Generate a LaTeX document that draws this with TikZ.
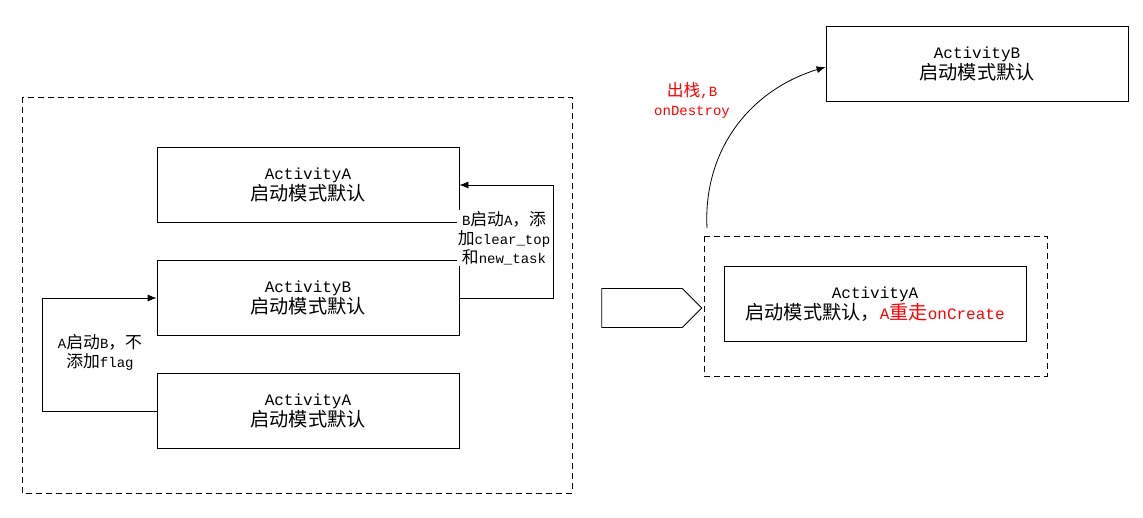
\documentclass[tikz,border=0pt]{standalone}
\usepackage{fontspec}
\setmainfont{Liberation Mono}
\newfontfamily\cjk[Scale=1.2]{Noto Sans CJK SC}
\usetikzlibrary{arrows.meta,shapes.arrows}
\begin{document}
\begin{tikzpicture}[x=1pt,y=-1pt,
 box/.style={draw,line width=0.8pt,minimum width=302pt,minimum height=75pt,align=center,font=\fontsize{16}{21}\selectfont},
 lab/.style={align=center,font=\fontsize{14}{19}\selectfont,fill=white,inner sep=1pt},
 dbox/.style={draw,dashed,line width=0.8pt,dash pattern=on 6pt off 4pt},
 arr/.style={-{Latex[length=9pt,width=7pt]},line width=0.8pt}]
\useasboundingbox (0,0) rectangle (1143,518);
\draw[dbox] (22,97) rectangle (572,493);
\node[box] (a1) at (308,184.5) {ActivityA\\{\cjk 启动模式默认}};
\node[box] (b) at (308,298) {ActivityB\\{\cjk 启动模式默认}};
\node[box] (a2) at (308,411) {ActivityA\\{\cjk 启动模式默认}};
\coordinate (r1) at (553,298); \coordinate (r2) at (553,185);
\draw[arr] (b.east) -- (r1) -- (r2) -- (a1.east |- r2);
\node[lab] at (504,238) {B{\cjk 启动}A{\cjk ，添}\\{\cjk 加}clear\_top\\{\cjk 和}new\_task};
\coordinate (l1) at (42,411); \coordinate (l2) at (42,298);
\draw[arr] (a2.west) -- (l1) -- (l2) -- (b.west);
\node[lab] at (100,352) {A{\cjk 启动}B{\cjk ，不}\\{\cjk 添加}flag};
\node[draw,single arrow,line width=0.8pt,minimum height=100pt,minimum width=39pt,single arrow head extend=0pt,single arrow tip angle=90,inner sep=0pt,shape border uses incircle=false] (big) at (642,308) {};
\draw[dbox] (704,236) rectangle (1047,376);
\node[box] (a3) at (875,304) {ActivityA\\{\cjk 启动模式默认，}\textcolor{red}{A{\cjk 重走}onCreate}};
\node[box] (b2) at (977,63.5) {ActivityB\\{\cjk 启动模式默认}};
\coordinate (c0) at (707,228);
\draw[arr] (c0) .. controls (703,150) and (750,90) .. (b2.west |- 0,67);
\node[align=center,text=red,font=\fontsize{14}{19}\selectfont] at (692,100) {{\cjk 出栈}{,}B\\onDestroy};
\end{tikzpicture}
\end{document}
